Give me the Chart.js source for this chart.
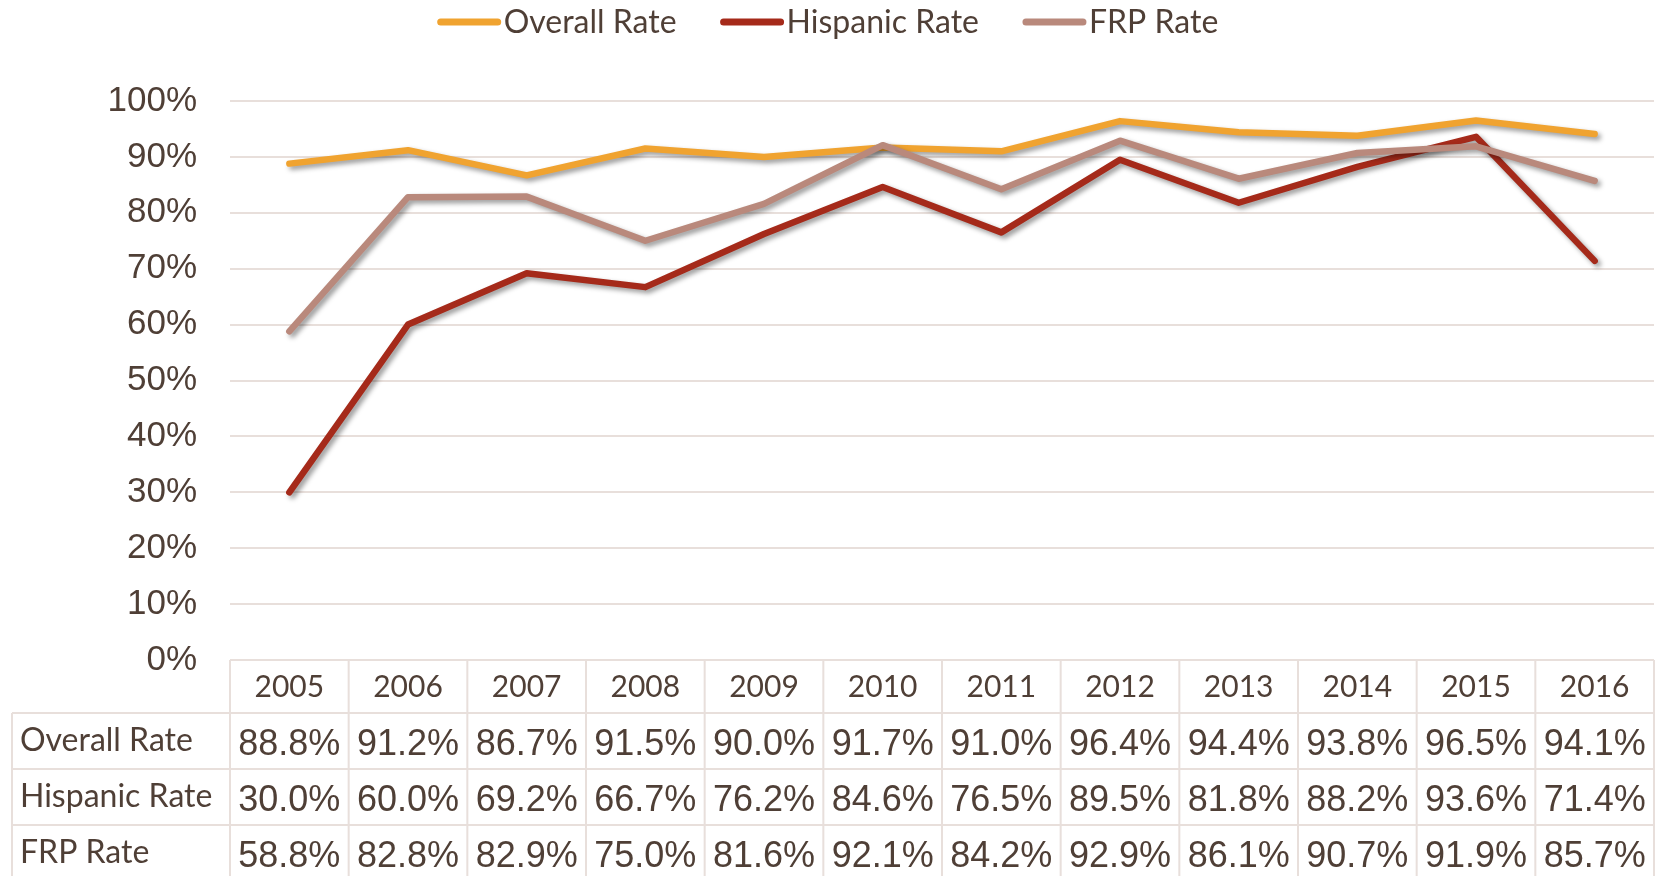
<!DOCTYPE html>
<html>
<head>
<meta charset="utf-8">
<script src="https://cdn.jsdelivr.net/npm/chart.js@4.4.1/dist/chart.umd.min.js"></script>
<style>
  html, body { margin: 0; padding: 0; background: #fff; }
  #wrap { width: 1656px; height: 876px; }
</style>
</head>
<body>
<div id="wrap"><canvas id="rateChart"></canvas></div>
<script>
/* ── Data ── */
const years = ['2005', '2006', '2007', '2008', '2009', '2010', '2011', '2012', '2013', '2014', '2015', '2016'];
const overallRate  = [88.8, 91.2, 86.7, 91.5, 90.0, 91.7, 91.0, 96.4, 94.4, 93.8, 96.5, 94.1];
const hispanicRate = [30.0, 60.0, 69.2, 66.7, 76.2, 84.6, 76.5, 89.5, 81.8, 88.2, 93.6, 71.4];
const frpRate      = [58.8, 82.8, 82.9, 75.0, 81.6, 92.1, 84.2, 92.9, 86.1, 90.7, 91.9, 85.7];
const seriesNames  = ['Overall Rate', 'Hispanic Rate', 'FRP Rate'];
const seriesColors = ['#F0A330', '#A52A1A', '#B9897C'];
const yTicks = [0, 10, 20, 30, 40, 50, 60, 70, 80, 90, 100];

const TEXT = '#4F3F36';
const RULE = '#E8DFDB';

/* ── Drop shadow under the lines ── */
const lineShadow = {
  id: 'lineShadow',
  beforeDatasetDraw(chart) {
    const c = chart.ctx;
    c.save();
    c.shadowColor = 'rgba(0,0,0,0.4)';
    c.shadowBlur = 5;
    c.shadowOffsetX = 3;
    c.shadowOffsetY = 3;
  },
  afterDatasetDraw(chart) { chart.ctx.restore(); }
};

/* ── Legend at the top ── */
const topLegend = {
  id: 'topLegend',
  afterDraw(chart) {
    const c = chart.ctx;
    const lineLen = 63, gap = 3, spacing = 44, y = 22;
    c.save();
    c.font = '32px Lato';
    c.textBaseline = 'middle';
    const widths = seriesNames.map(s => c.measureText(s).width);
    const total = widths.reduce((a, w) => a + lineLen + gap + w, 0) + spacing * (seriesNames.length - 1);
    let x = (chart.width - total) / 2;
    seriesNames.forEach((name, i) => {
      c.strokeStyle = seriesColors[i];
      c.lineWidth = 7;
      c.lineCap = 'round';
      c.beginPath();
      c.moveTo(x + 3, y);
      c.lineTo(x + lineLen - 3, y);
      c.stroke();
      c.fillStyle = TEXT;
      c.fillText(name, x + lineLen + gap, y + 1);
      x += lineLen + gap + widths[i] + spacing;
    });
    c.restore();
  }
};

/* ── Data table under the plot ── */
const dataTable = {
  id: 'dataTable',
  afterDraw(chart) {
    const c = chart.ctx;
    const a = chart.chartArea;
    const xs = chart.scales.x;
    const n = years.length;
    const colW = (a.right - a.left) / n;
    const rows = [overallRate, hispanicRate, frpRate];
    const headTop = a.bottom, headH = 53, rowH = 56;
    const tableLeft = 12;
    const bottom = chart.height + 5;

    c.save();
    c.strokeStyle = RULE;
    c.lineWidth = 2;
    c.beginPath();
    c.moveTo(a.left, headTop); c.lineTo(a.right, headTop);
    for (let r = 0; r <= rows.length; r++) {
      const y = headTop + headH + r * rowH;
      c.moveTo(tableLeft, y); c.lineTo(a.right, y);
    }
    for (let i = 0; i <= n; i++) {
      const x = a.left + i * colW;
      c.moveTo(x, headTop); c.lineTo(x, bottom);
    }
    c.moveTo(tableLeft, headTop + headH); c.lineTo(tableLeft, bottom);
    c.stroke();

    c.fillStyle = TEXT;
    c.textBaseline = 'middle';
    c.textAlign = 'center';
    c.font = '30px Lato';
    years.forEach((yr, i) => c.fillText(yr, xs.getPixelForValue(i), headTop + headH / 2 + 1));

    rows.forEach((vals, r) => {
      const cy = headTop + headH + r * rowH + rowH / 2;
      c.textAlign = 'left';
      c.font = '32px Lato';
      c.fillText(seriesNames[r], tableLeft + 8, cy);
      c.textAlign = 'center';
      c.font = '36px "Liberation Sans"';
      vals.forEach((v, i) => c.fillText(v.toFixed(1) + '%', xs.getPixelForValue(i), cy + 4));
    });
    c.restore();
  }
};

/* ── Chart ── */
new Chart(document.getElementById('rateChart'), {
  type: 'line',
  data: {
    labels: years,
    datasets: [overallRate, hispanicRate, frpRate].map((vals, i) => ({
      label: seriesNames[i],
      data: vals,
      borderColor: seriesColors[i],
      backgroundColor: seriesColors[i],
      borderWidth: 6.5,
      borderCapStyle: 'round',
      borderJoinStyle: 'round',
      pointRadius: 0,
      tension: 0,
      order: 3 - i
    }))
  },
  options: {
    responsive: true,
    maintainAspectRatio: false,
    animation: false,
    layout: { padding: { top: 101, right: 2, bottom: 0, left: 0 } },
    plugins: {
      legend: { display: false },
      tooltip: { enabled: false }
    },
    scales: {
      x: {
        offset: true,
        grid: { display: false },
        border: { display: false },
        ticks: { display: false },
        afterFit: s => { s.height = 216; }
      },
      y: {
        min: 0,
        max: 100,
        afterBuildTicks: s => { s.ticks = yTicks.map(v => ({ value: v })); },
        grid: { color: RULE, lineWidth: 2, drawTicks: false },
        border: { display: false },
        ticks: {
          color: TEXT,
          padding: 33,
          font: { family: '"Liberation Sans"', size: 35 },
          callback: v => v + '%'
        },
        afterFit: s => { s.width = 230; }
      }
    }
  },
  plugins: [lineShadow, topLegend, dataTable]
});
</script>
</body>
</html>
